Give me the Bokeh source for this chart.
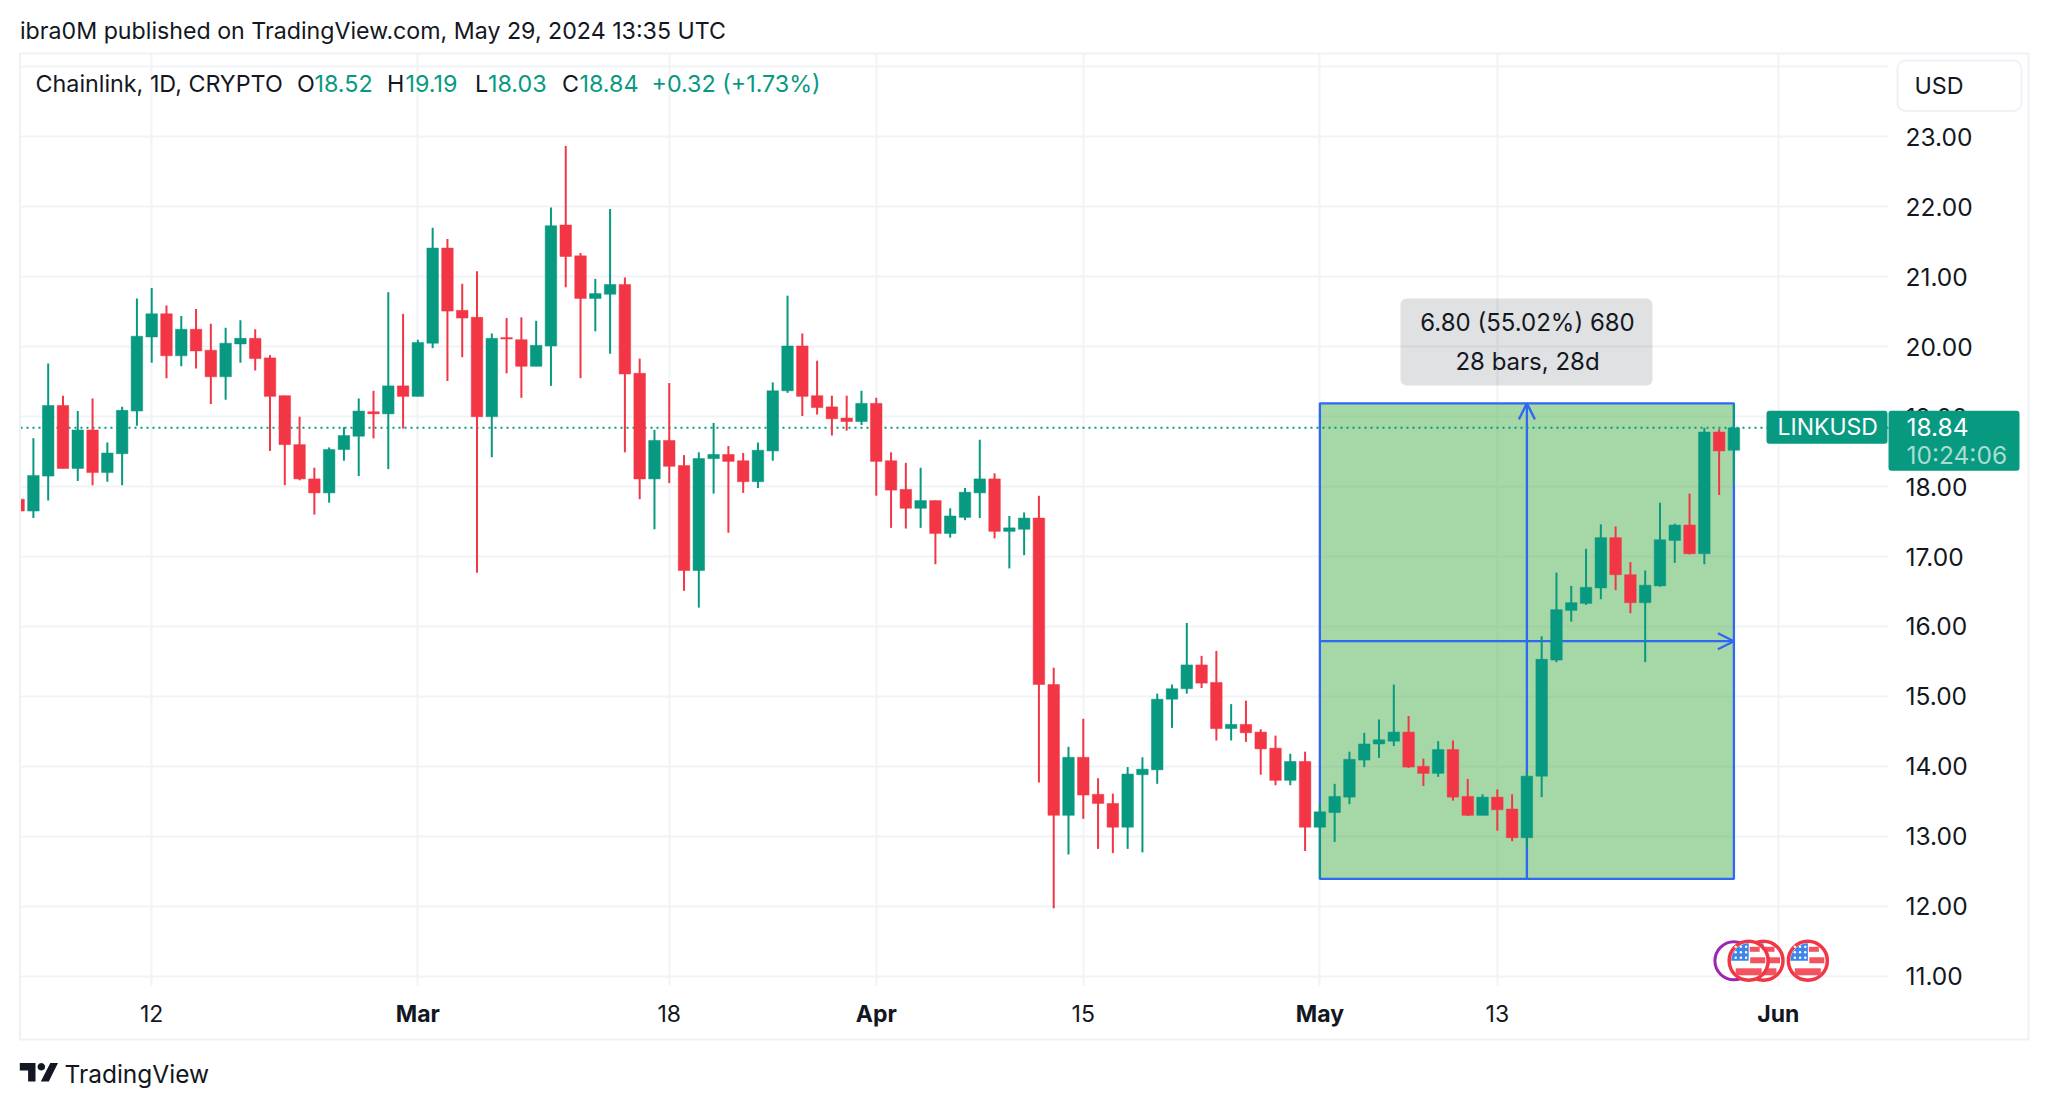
from bokeh.plotting import figure
from bokeh.embed import file_html
from bokeh.resources import INLINE
from bokeh.models import (Range1d, LinearAxis, FixedTicker, NumeralTickFormatter, Label, BoxAnnotation,
                          Arrow, OpenHead, PolyAnnotation, ColumnDataSource, Grid)

# ---- data ----
first_day = -9   # days relative to 12 Feb 2024
high = [17.82,18.69,19.76,19.30,19.08,19.26,18.63,19.14,20.69,20.84,20.59,20.44,20.54,20.33,20.27,20.38,20.25,19.88,19.30,19.00,18.27,18.56,18.85,19.26,19.37,20.78,20.47,20.10,21.70,21.54,20.90,21.08,20.19,20.41,20.42,20.37,21.99,22.87,21.34,20.97,21.97,20.99,19.83,18.81,19.48,18.45,18.49,18.91,18.58,18.48,18.63,19.49,20.73,20.19,19.80,19.30,19.30,19.37,19.27,18.49,18.34,18.27,17.80,17.69,17.98,18.67,18.19,17.58,17.63,17.87,15.41,14.28,14.68,13.83,13.61,13.99,14.13,15.04,15.17,16.05,15.58,15.65,14.89,14.94,14.53,14.44,14.18,14.21,13.47,13.75,14.21,14.48,14.67,15.17,14.72,14.11,14.36,14.37,13.82,13.60,13.67,13.60,13.92,15.86,16.77,16.58,17.11,17.46,17.43,16.92,16.80,17.77,17.47,17.90,18.84,18.82,19.19]
open_ = [17.82,17.65,18.15,19.16,18.26,18.81,18.20,18.47,19.08,20.14,20.47,19.87,20.25,19.95,19.57,20.04,20.12,19.84,19.30,18.60,18.11,17.91,18.53,18.72,19.07,19.04,19.44,19.29,20.05,21.41,20.52,20.42,19.00,20.13,20.10,19.72,20.01,21.74,21.30,20.69,20.75,20.89,19.62,18.11,18.66,18.30,16.80,18.40,18.46,18.37,18.07,18.51,19.37,20.01,19.30,19.14,18.98,18.93,19.19,18.37,17.96,17.69,17.80,17.33,17.56,17.91,18.11,17.36,17.39,17.55,15.17,13.30,14.13,13.60,13.47,13.13,13.88,13.95,14.96,15.11,15.45,15.20,14.54,14.60,14.49,14.26,13.80,14.07,13.13,13.34,13.56,14.09,14.32,14.36,14.49,14.00,13.90,14.24,13.57,13.30,13.56,13.39,12.98,13.86,15.52,16.23,16.33,16.55,17.27,16.74,16.34,16.58,17.23,17.45,17.04,18.78,18.52]
close = [17.65,18.16,19.16,18.26,18.81,18.20,18.48,19.09,20.15,20.47,19.87,20.25,19.94,19.57,20.05,20.12,19.83,19.29,18.60,18.11,17.91,18.53,18.73,19.08,19.04,19.44,19.29,20.06,21.41,20.51,20.41,19.00,20.12,20.11,19.72,20.02,21.73,21.29,20.69,20.76,20.89,19.61,18.11,18.66,18.29,16.80,18.40,18.46,18.36,18.07,18.52,19.37,20.01,19.29,19.13,18.97,18.93,19.19,18.36,17.95,17.69,17.80,17.33,17.58,17.92,18.11,17.36,17.41,17.55,15.17,13.30,14.13,13.59,13.47,13.13,13.89,13.96,14.96,15.11,15.45,15.19,14.54,14.60,14.48,14.25,13.80,14.07,13.13,13.35,13.57,14.10,14.32,14.38,14.49,13.99,13.90,14.24,13.56,13.30,13.56,13.38,12.98,13.86,15.53,16.24,16.34,16.56,17.27,16.74,16.34,16.59,17.24,17.45,17.04,18.78,18.51,18.84]
low = [17.65,17.55,17.80,18.26,18.08,18.02,18.07,18.02,18.87,19.77,19.55,19.72,19.69,19.18,19.24,19.77,19.66,18.51,18.02,18.09,17.60,17.77,18.37,18.15,18.69,18.25,18.83,19.29,19.98,19.51,19.85,16.77,18.42,19.62,19.27,19.72,19.44,20.85,19.55,20.22,19.90,18.49,17.82,17.39,18.05,16.51,16.27,17.90,17.34,17.91,17.98,18.37,19.34,19.01,19.03,18.73,18.80,18.88,17.87,17.41,17.40,17.41,16.89,17.27,17.52,17.55,17.26,16.83,17.02,13.77,11.97,12.74,13.25,12.82,12.76,12.82,12.77,13.75,14.55,15.04,15.12,14.37,14.37,14.35,13.88,13.73,13.73,12.79,12.40,12.92,13.46,13.99,14.12,14.29,13.98,13.72,13.85,13.51,13.29,13.30,13.08,12.93,12.85,13.56,15.49,16.07,16.31,16.39,16.52,16.19,15.49,16.57,16.91,17.03,16.89,17.88,18.03]

price_ticks = [11, 12, 13, 14, 15, 16, 17, 18, 19, 20, 21, 22, 23]
price_grid = price_ticks + [24]
day_ticks = {0: "12", 35: "18", 63: "15", 91: "13"}
month_ticks = {18: "Mar", 49: "Apr", 79: "May", 110: "Jun"}
measure_start, measure_end = 79, 107
measure_low, measure_high = 12.39, 19.19
measure_text = ["6.80 (55.02%) 680", "28 bars, 28d"]
event_days_us = [109, 108, 112]
event_day_other = 107
event_price = 11.22

GREEN, RED, INK, GRID, BLUE = "#089981", "#F23645", "#131722", "#F2F3F5", "#3068F5"
FONT = "Inter"

# reference-pixel <-> data helpers (layout only)
PX_DAY, X0 = 14.787, 151.2
PX_USD, Y23 = 69.94, 136.4
def X(px): return (px - X0) / PX_DAY
def Y(py): return 23 - (py - Y23) / PX_USD

W, H = 2048, 1108
PANE_L, PANE_R, PANE_T, PANE_B = 20, 1888, 53, 985
# The frame fills the whole canvas, so that annotations are not clipped away.
p = figure(width=W, height=H, output_backend="svg", toolbar_location=None,
           x_range=Range1d(X(0), X(W)), y_range=Range1d(Y(H), Y(0)),
           min_border=0, x_axis_location=None, y_axis_location=None)
p.outline_line_color = None
p.background_fill_color = "white"
p.border_fill_color = "white"

p.xgrid.visible = False
p.ygrid.visible = False
p.add_layout(Grid(dimension=0, ticker=FixedTicker(ticks=sorted(list(day_ticks) + list(month_ticks))),
                  grid_line_color=GRID, grid_line_width=2, level="underlay"))
p.add_layout(Grid(dimension=1, ticker=FixedTicker(ticks=price_grid),
                  grid_line_color=GRID, grid_line_width=2, level="underlay"))

# white margins round the chart pane hide the ends of the grid lines
for l, r, t, b in [(0, W, 0, PANE_T), (0, W, PANE_B, H), (PANE_R, W, 0, H), (0, PANE_L, 0, H)]:
    p.add_layout(BoxAnnotation(left=X(l), right=X(r), top=Y(t), bottom=Y(b), fill_color="white", fill_alpha=1,
                               line_alpha=0, level="underlay"))

# measure box
p.add_layout(BoxAnnotation(left=measure_start, right=measure_end, bottom=measure_low, top=measure_high,
                           fill_color="#4CAF50", fill_alpha=0.5, line_color=BLUE, line_alpha=1, line_width=2.3, level="underlay"))
mid_day = (measure_start + measure_end) / 2
mid_price = (measure_low + measure_high) / 2
p.add_layout(Arrow(x_start=mid_day, x_end=mid_day, y_start=measure_low, y_end=measure_high,
                   line_color=BLUE, line_width=2.3, level="underlay",
                   end=OpenHead(size=16, line_color=BLUE, line_width=2.3)))
p.add_layout(Arrow(x_start=measure_start, x_end=measure_end, y_start=mid_price, y_end=mid_price,
                   line_color=BLUE, line_width=2.3, level="underlay",
                   end=OpenHead(size=16, line_color=BLUE, line_width=2.3)))

# price line, drawn as a dotted glyph as far as the price tag
p.line([X(PANE_L), X(PANE_R)], [close[-1], close[-1]], line_color=GREEN, line_width=2, line_dash="2 4")

# candles
n = len(close)
days = [first_day + i for i in range(n)]
colors = [RED if c < o else GREEN for o, c in zip(open_, close)]
src = ColumnDataSource(dict(d=days, h=high, l=low, top=[max(o, c) for o, c in zip(open_, close)],
                            bot=[min(o, c) for o, c in zip(open_, close)], col=colors))
p.segment("d", "l", "d", "h", source=src, line_color="col", line_width=2)
p.vbar("d", width=0.78, top="top", bottom="bot", source=src, fill_color="col", line_color="col", line_width=0.5)

# event markers
p.scatter([event_day_other], [event_price], size=38, fill_color="white", line_color="#9C27B0", line_width=3, marker="circle")
for ed in event_days_us:
    p.scatter([ed], [event_price], size=39, fill_color="white", line_color=RED, line_width=3.5, marker="circle")
    p.wedge([ed], [event_price], radius=17.5, radius_units="screen", start_angle=1.5708, end_angle=3.1416,
            fill_color="#3D85E8", line_color=None)
    dy = 1 / PX_USD
    dx = 1 / PX_DAY
    p.rect([ed + 9 * dx], [event_price + 0.5 * dy], width=15, height=6, width_units="screen", height_units="screen",
           fill_color="#F2535F", line_color=None)
    p.rect([ed + 6 * dx], [event_price + 11.5 * dy], width=10, height=5, width_units="screen", height_units="screen",
           fill_color="#F2535F", line_color=None)
    p.rect([ed], [event_price - 11 * dy], width=26, height=7, width_units="screen", height_units="screen",
           fill_color="#F2535F", line_color=None)
    p.scatter([ed - k * 5.2 * dx for k in (0.5, 1.5, 2.5)] * 3,
              [event_price + r * dy for r in (3, 3, 3, 8.5, 8.5, 8.5, 14, 14, 14)],
              size=2.5, fill_color="white", line_color=None, marker="circle")

# axes, pinned to the edges of the chart pane
axis_style = dict(major_tick_line_color=None, minor_tick_line_color=None, axis_line_color=None,
                  major_label_text_font=FONT, major_label_text_color=INK)
ax = LinearAxis(ticker=FixedTicker(ticks=list(day_ticks)), major_label_overrides=day_ticks, fixed_location=Y(PANE_B),
                major_label_text_font_size="23px", major_label_standoff=13, **axis_style)
p.add_layout(ax, "below")
ax2 = LinearAxis(ticker=FixedTicker(ticks=list(month_ticks)), major_label_overrides=month_ticks, fixed_location=Y(PANE_B),
                 major_label_text_font_size="23px", major_label_text_font_style="bold", major_label_standoff=8, **axis_style)
p.add_layout(ax2, "below")
ay = LinearAxis(ticker=FixedTicker(ticks=price_ticks), formatter=NumeralTickFormatter(format="0.00"), fixed_location=X(PANE_R),
                major_label_text_font_size="24.5px", major_label_standoff=11, **axis_style)
p.add_layout(ay, "right")

# covers the part of the first candle that lies left of the pane
p.add_layout(BoxAnnotation(left=X(0), right=X(PANE_L), top=Y(PANE_T), bottom=Y(PANE_B), fill_color="white", fill_alpha=1,
                           line_alpha=0))
# outer border
p.add_layout(BoxAnnotation(left=X(19.5), right=X(2028), top=Y(53), bottom=Y(1039), fill_alpha=0,
                           line_color="#F0F1F6", line_alpha=1, line_width=2))

def label(px, py, text, color=INK, size=23.3, align="left", style="normal"):
    p.add_layout(Label(x=X(px), y=Y(py), text=text, text_color=color, text_font=FONT, text_font_size=f"{size}px",
                       text_align=align, text_baseline="middle", text_font_style=style))

# header
label(19.5, 30.5, "ibra0M published on TradingView.com, May 29, 2024 13:35 UTC", size=23.2)
label(35, 82.5, "Chainlink, 1D, CRYPTO")
label(296.5, 82.5, "O"); label(314, 82.5, "18.52", GREEN)
label(386.5, 82.5, "H"); label(405, 82.5, "19.19", GREEN)
label(474.5, 82.5, "L"); label(487.5, 82.5, "18.03", GREEN)
label(561.5, 82.5, "C"); label(579, 82.5, "18.84", GREEN)
label(651, 82.5, "+0.32 (+1.73%)", GREEN)

# USD box
p.add_layout(BoxAnnotation(left=X(1897), right=X(2021), top=Y(60), bottom=Y(110.5), fill_color="white", fill_alpha=1,
                           line_color="#F0F1F6", line_alpha=1, line_width=2, border_radius=8))
label(1914, 84.5, "USD")

# price tags
y_last = Y23 + (23 - close[-1]) * PX_USD
p.add_layout(BoxAnnotation(left=X(1766), right=X(1887), top=Y(y_last - 17), bottom=Y(y_last + 16), fill_color=GREEN, fill_alpha=1,
                           line_alpha=0, border_radius=3))
p.add_layout(BoxAnnotation(left=X(1888), right=X(2019), top=Y(y_last - 17), bottom=Y(y_last + 43), fill_color=GREEN, fill_alpha=1,
                           line_alpha=0, border_radius=3))
label(1777, y_last - 0.5, "LINKUSD", "#FFFFFF", size=23)
label(1906, y_last - 0.5, f"{close[-1]:.2f}", "#FFFFFF", size=24.5)
label(1906, y_last + 27, "10:24:06", "#A9DDD0", size=24.5)

# measure tooltip
p.add_layout(BoxAnnotation(left=X(1400), right=X(1652), top=Y(298), bottom=Y(385), fill_color=INK, fill_alpha=0.13,
                           line_alpha=0, border_radius=6))
label(1527, 322, measure_text[0], align="center", size=24)
label(1527, 361, measure_text[1], align="center", size=24)

# logo
lx, ly = 19.3, 1062.5
logo = [[(0, 0), (15.7, 0), (15.7, 18.5), (8.3, 18.5), (8.3, 7.5), (0, 7.5)],
        [(30.5, 0), (38.2, 0), (29, 18.5), (21, 18.5)]]
for poly in logo:
    p.add_layout(PolyAnnotation(xs=[X(lx + a) for a, b in poly], ys=[Y(ly + b) for a, b in poly],
                                fill_color=INK, fill_alpha=1, line_alpha=0))
circle = [(21.5 + 3.8 * c, 3.8 + 3.8 * s) for c, s in [(1, 0), (.87, .5), (.5, .87), (0, 1), (-.5, .87), (-.87, .5), (-1, 0), (-.87, -.5), (-.5, -.87), (0, -1), (.5, -.87), (.87, -.5)]]
p.add_layout(PolyAnnotation(xs=[X(lx + a) for a, b in circle], ys=[Y(ly + b) for a, b in circle],
                            fill_color=INK, fill_alpha=1, line_alpha=0))
label(64, 1073.5, "TradingView", size=24.5)

open("out.html", "w").write(file_html(p, INLINE))
